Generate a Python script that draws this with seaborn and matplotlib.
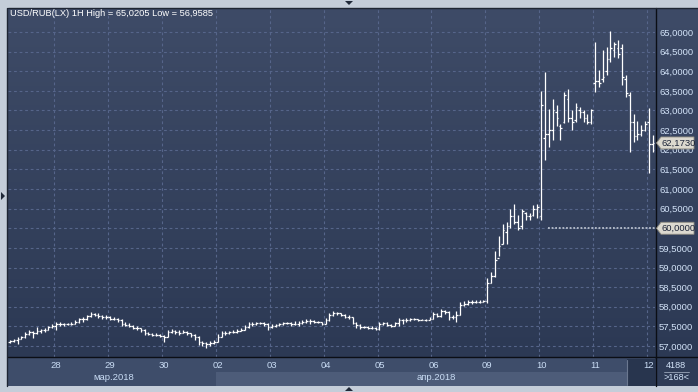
import numpy as np
import matplotlib
matplotlib.use("Agg")
import matplotlib.pyplot as plt
import seaborn as sns
from matplotlib.patches import Rectangle, Polygon
from matplotlib.colors import LinearSegmentedColormap

# ---------------- data ----------------
title = "USD/RUB(LX) 1H High = 65,0205 Low = 56,9585"
day_labels = ["27", "28", "29", "30", "02", "03", "04", "05", "06", "09", "10", "11", "12"]
bars_per_day = [12, 14, 14, 14, 14, 14, 14, 14, 14, 14, 14, 14, 2]
month_labels = ["мар.2018", "апр.2018"]
y_ticks = [57.0, 57.5, 58.0, 58.5, 59.0, 59.5, 60.0, 60.5, 61.0, 61.5, 62.0, 62.5, 63.0, 63.5, 64.0, 64.5, 65.0]
last_price = 62.1730
level_price = 60.0
total_bars_label = "4188"
visible_bars_label = ">168<"

open_ = [57.10, 57.12, 57.15, 57.19, 57.22, 57.30, 57.36, 57.32, 57.39, 57.40, 57.42, 57.48,
         57.50, 57.57, 57.55, 57.55, 57.56, 57.57, 57.62, 57.68, 57.70, 57.76, 57.81, 57.80, 57.76, 57.73,
         57.74, 57.70, 57.70, 57.66, 57.57, 57.53, 57.51, 57.47, 57.45, 57.41, 57.32, 57.30, 57.28, 57.29,
         57.25, 57.24, 57.36, 57.39, 57.36, 57.34, 57.36, 57.32, 57.28, 57.24, 57.11, 57.07, 57.05, 57.07,
         57.11, 57.24, 57.32, 57.34, 57.36, 57.36, 57.39, 57.42, 57.49, 57.56, 57.56, 57.58, 57.58, 57.57,
         57.49, 57.50, 57.53, 57.55, 57.58, 57.59, 57.56, 57.57, 57.59, 57.62, 57.64, 57.63, 57.62, 57.60,
         57.56, 57.66, 57.79, 57.85, 57.83, 57.79, 57.75, 57.73, 57.59, 57.53, 57.49, 57.48, 57.47, 57.46,
         57.43, 57.57, 57.58, 57.54, 57.52, 57.58, 57.65, 57.67, 57.67, 57.69, 57.69, 57.67, 57.67, 57.67,
         57.70, 57.82, 57.77, 57.88, 57.87, 57.74, 57.75, 57.80, 58.05, 58.08, 58.11, 58.13, 58.12, 58.13,
         58.15, 58.60, 58.78, 59.25, 59.60, 59.90, 60.05, 60.30, 60.15, 60.05, 60.40, 60.30, 60.35, 60.50,
         60.30, 62.30, 62.40, 62.50, 62.95, 62.60, 62.70, 63.30, 62.80, 62.75, 63.00, 62.95, 62.80, 62.70,
         63.70, 63.75, 63.80, 64.00, 64.30, 64.55, 64.60, 64.60, 63.80, 63.40, 62.70, 62.35, 62.40, 62.50,
         62.70, 62.15]
high = [57.15, 57.18, 57.22, 57.26, 57.36, 57.42, 57.38, 57.48, 57.44, 57.46, 57.52, 57.55,
        57.62, 57.60, 57.59, 57.59, 57.60, 57.67, 57.72, 57.75, 57.80, 57.86, 57.85, 57.83, 57.79, 57.78,
        57.76, 57.74, 57.72, 57.68, 57.62, 57.58, 57.53, 57.50, 57.47, 57.43, 57.35, 57.33, 57.32, 57.31,
        57.28, 57.42, 57.44, 57.42, 57.40, 57.41, 57.38, 57.34, 57.30, 57.26, 57.14, 57.10, 57.12, 57.16,
        57.30, 57.37, 57.38, 57.39, 57.40, 57.43, 57.47, 57.53, 57.60, 57.60, 57.62, 57.61, 57.60, 57.59,
        57.55, 57.57, 57.58, 57.62, 57.62, 57.61, 57.63, 57.64, 57.66, 57.70, 57.68, 57.66, 57.64, 57.62,
        57.72, 57.84, 57.88, 57.87, 57.85, 57.82, 57.80, 57.75, 57.62, 57.56, 57.52, 57.51, 57.50, 57.48,
        57.62, 57.61, 57.60, 57.57, 57.62, 57.72, 57.70, 57.72, 57.72, 57.71, 57.70, 57.70, 57.69, 57.73,
        57.86, 57.84, 57.94, 57.92, 57.89, 57.80, 57.90, 58.12, 58.14, 58.16, 58.17, 58.16, 58.16, 58.17,
        58.73, 58.88, 59.42, 59.80, 60.10, 60.15, 60.50, 60.62, 60.35, 60.50, 60.42, 60.38, 60.58, 60.62,
        63.50, 63.97, 63.05, 63.30, 63.15, 62.66, 63.48, 63.56, 63.00, 63.20, 63.10, 63.00, 62.90, 63.05,
        64.75, 64.03, 64.54, 64.63, 65.02, 64.75, 64.80, 64.70, 63.90, 63.48, 62.90, 62.72, 62.64, 62.72,
        63.06, 62.38]
low = [57.08, 57.10, 57.05, 57.17, 57.20, 57.28, 57.20, 57.30, 57.34, 57.36, 57.40, 57.45,
       57.42, 57.52, 57.52, 57.53, 57.53, 57.55, 57.58, 57.62, 57.67, 57.74, 57.76, 57.72, 57.70, 57.70,
       57.66, 57.66, 57.62, 57.52, 57.50, 57.48, 57.43, 57.42, 57.36, 57.29, 57.27, 57.25, 57.25, 57.22,
       57.10, 57.22, 57.34, 57.30, 57.29, 57.32, 57.28, 57.24, 57.15, 57.02, 56.99, 56.96, 57.01, 57.04,
       57.09, 57.22, 57.29, 57.31, 57.33, 57.34, 57.37, 57.40, 57.46, 57.52, 57.54, 57.55, 57.52, 57.42,
       57.45, 57.48, 57.50, 57.53, 57.55, 57.52, 57.54, 57.52, 57.57, 57.58, 57.56, 57.59, 57.58, 57.54,
       57.55, 57.64, 57.77, 57.80, 57.76, 57.72, 57.70, 57.56, 57.47, 57.44, 57.45, 57.44, 57.43, 57.40,
       57.42, 57.54, 57.50, 57.49, 57.50, 57.52, 57.56, 57.60, 57.64, 57.65, 57.64, 57.65, 57.64, 57.65,
       57.69, 57.74, 57.75, 57.82, 57.65, 57.70, 57.62, 57.78, 58.02, 58.04, 58.08, 58.09, 58.10, 58.11,
       58.10, 58.60, 58.75, 59.30, 59.60, 59.60, 60.00, 60.10, 59.95, 59.98, 60.20, 60.20, 60.30, 60.25,
       60.20, 61.74, 62.06, 62.24, 62.60, 62.24, 62.67, 62.70, 62.50, 62.70, 62.80, 62.70, 62.65, 62.65,
       63.48, 63.60, 63.73, 63.90, 64.24, 64.37, 64.33, 63.65, 63.35, 61.95, 62.21, 62.25, 62.34, 62.47,
       61.40, 61.95]
close = [57.12, 57.15, 57.19, 57.22, 57.30, 57.36, 57.32, 57.39, 57.40, 57.42, 57.48, 57.50,
         57.57, 57.55, 57.55, 57.56, 57.57, 57.62, 57.68, 57.70, 57.76, 57.81, 57.80, 57.76, 57.73, 57.74,
         57.70, 57.70, 57.66, 57.57, 57.53, 57.51, 57.47, 57.45, 57.41, 57.32, 57.30, 57.28, 57.29, 57.25,
         57.24, 57.36, 57.39, 57.36, 57.34, 57.36, 57.32, 57.28, 57.24, 57.11, 57.07, 57.05, 57.07, 57.11,
         57.24, 57.32, 57.34, 57.36, 57.36, 57.39, 57.42, 57.49, 57.56, 57.56, 57.58, 57.58, 57.57, 57.49,
         57.50, 57.53, 57.55, 57.58, 57.59, 57.56, 57.57, 57.59, 57.62, 57.64, 57.63, 57.62, 57.60, 57.56,
         57.66, 57.79, 57.85, 57.83, 57.79, 57.75, 57.73, 57.59, 57.53, 57.49, 57.48, 57.47, 57.46, 57.43,
         57.57, 57.58, 57.54, 57.52, 57.58, 57.65, 57.67, 57.67, 57.69, 57.69, 57.67, 57.67, 57.67, 57.70,
         57.82, 57.77, 57.88, 57.87, 57.74, 57.75, 57.80, 58.05, 58.08, 58.11, 58.13, 58.12, 58.13, 58.14,
         58.60, 58.78, 59.20, 59.55, 59.95, 60.05, 60.30, 60.15, 60.00, 60.45, 60.30, 60.30, 60.50, 60.55,
         63.15, 62.40, 62.50, 63.00, 62.80, 62.55, 63.40, 62.80, 62.70, 63.10, 62.95, 62.80, 62.70, 63.00,
         63.75, 63.70, 63.85, 64.30, 64.60, 64.70, 64.45, 63.85, 63.45, 62.70, 62.35, 62.40, 62.50, 62.65,
         62.15, 62.17]

# ---------------- figure ----------------
sns.set_theme(style="dark")
plt.rcParams["font.family"] = ["Liberation Sans", "DejaVu Sans"]

W, H = 698, 392
fig = plt.figure(figsize=(W / 100, H / 100), dpi=100)
fig.patch.set_facecolor("#c4cdd9")

def rect(x, y, w, h, color, z=0, **kw):
    fig.add_artist(Rectangle((x / W, 1 - (y + h) / H), w / W, h / H, transform=fig.transFigure,
                             facecolor=color, edgecolor="none", zorder=z, **kw))

def line(x0, y0, x1, y1, color, lw=1.0, z=5, **kw):
    fig.add_artist(plt.Line2D([x0 / W, x1 / W], [1 - y0 / H, 1 - y1 / H], transform=fig.transFigure,
                              color=color, lw=lw, zorder=z, **kw))

# gradient background of plot + price panel
bg = fig.add_axes([8 / W, 1 - 357 / H, 690 / W, 349 / H])
cmap = LinearSegmentedColormap.from_list("bgc", ["#3e4b67", "#2c3954"])
bg.imshow(np.linspace(0, 1, 256).reshape(-1, 1), aspect="auto", cmap=cmap, extent=[0, 1, 0, 1])
bg.set_axis_off()
bg.set_zorder(0)

# bottom band
rect(8, 357, 690, 29, "#3e4d6a", z=1)
rect(216, 372, 411, 14, "#4d5c79", z=1)
rect(627, 359, 28, 27, "#28354e", z=1)
rect(655, 357, 43, 29, "#2f3c57", z=1)

ax = fig.add_axes([8 / W, 1 - 357 / H, 647 / W, 349 / H])
ax.set_facecolor("none")
ax.set_zorder(3)

n = len(close)
x = np.arange(n)
ymin, ymax = 56.72, 65.611
ax.set_xlim(-0.49, 167.56)
ax.set_ylim(ymin, ymax)

grid_kw = dict(color="#56658a", lw=0.8, linestyle=(0, (2.5, 2.5)), zorder=1)
for v in y_ticks:
    ax.axhline(v, **grid_kw)
bounds = np.cumsum(bars_per_day)[:-1]
for b in bounds:
    ax.axvline(b - 0.5, **grid_kw)

ax.vlines(x, low, high, colors="white", lw=0.9, zorder=3)
ax.hlines(open_, x - 0.42, x, colors="white", lw=0.9, zorder=3)
ax.hlines(close, x, x + 0.42, colors="white", lw=0.9, zorder=3)

ax.hlines(level_price, 139.8, 167.56, colors="#b9c0cc", lw=1.3, linestyles=(0, (1, 1)), zorder=2)

# the level tag replaces the tick label at the same price
ax.set_yticks(y_ticks)
ax.set_yticklabels(["" if abs(v - level_price) < 1e-9 else f"{v:.4f}".replace(".", ",") for v in y_ticks])
ax.yaxis.tick_right()
ax.tick_params(axis="y", length=0, pad=3, labelsize=6.8, labelcolor="#d3e3f8")
ax.set_xticks(bounds)
ax.set_xticklabels(day_labels[1:])
ax.tick_params(axis="x", length=0, pad=3.2, labelsize=6.8, labelcolor="#c9dcf4")
for s in ax.spines.values():
    s.set_visible(False)
ax.grid(False)

# frame lines
line(8, 357, 698, 357, "#0b0e15", lw=1.0)
line(655.5, 8, 655.5, 386, "#0b0e15", lw=1.0)
line(8, 7.5, 698, 7.5, "#1e2533", lw=1.0)
line(7.5, 8, 7.5, 386, "#1e2533", lw=1.0)
line(626.5, 360, 626.5, 385, "#6b7890", lw=0.8)

# title
fig.text(10 / W, 1 - 14 / H, title, fontsize=6.7, color="white", va="center", ha="left", zorder=6)

# month labels
fig.text(114 / W, 1 - 378 / H, month_labels[0], fontsize=6.8, color="#c9dcf4", ha="center", va="center", zorder=6)
fig.text(436 / W, 1 - 378 / H, month_labels[1], fontsize=6.8, color="#c9dcf4", ha="center", va="center", zorder=6)

# bar count box
fig.text(676 / W, 1 - 365 / H, total_bars_label, fontsize=6.6, color="#d3e3f8", ha="center", va="center", zorder=6)
line(664, 371.5, 689, 371.5, "#9aa6ba", lw=0.6)
fig.text(676 / W, 1 - 378 / H, visible_bars_label, fontsize=6.6, color="#d3e3f8", ha="center", va="center", zorder=6)

# price tags
def ypx(v):
    return 8 + (ymax - v) / (ymax - ymin) * 349

for v in (last_price, level_price):
    yp = ypx(v)
    pts = [(656.5, yp), (661, yp - 6), (694, yp - 6), (694, yp + 6), (661, yp + 6)]
    fig.add_artist(Polygon([(px / W, 1 - py / H) for px, py in pts], closed=True, transform=fig.transFigure,
                           facecolor="#dcd9cf", edgecolor="#8c8a80", lw=0.6, zorder=7))
    fig.text(661 / W, 1 - yp / H, f"{v:.4f}".replace(".", ","), fontsize=6.8, color="#1c2438",
             ha="left", va="center", zorder=8)

# navigation arrows
for pts in ([(345, 1), (353, 1), (349, 5)], [(345, 391), (353, 391), (349, 387)], [(1, 192), (1, 200), (5, 196)]):
    fig.add_artist(Polygon([(px / W, 1 - py / H) for px, py in pts], closed=True, transform=fig.transFigure,
                           facecolor="#1f2838", edgecolor="none", zorder=7))

fig.savefig("out.png", dpi=100, facecolor=fig.get_facecolor())
